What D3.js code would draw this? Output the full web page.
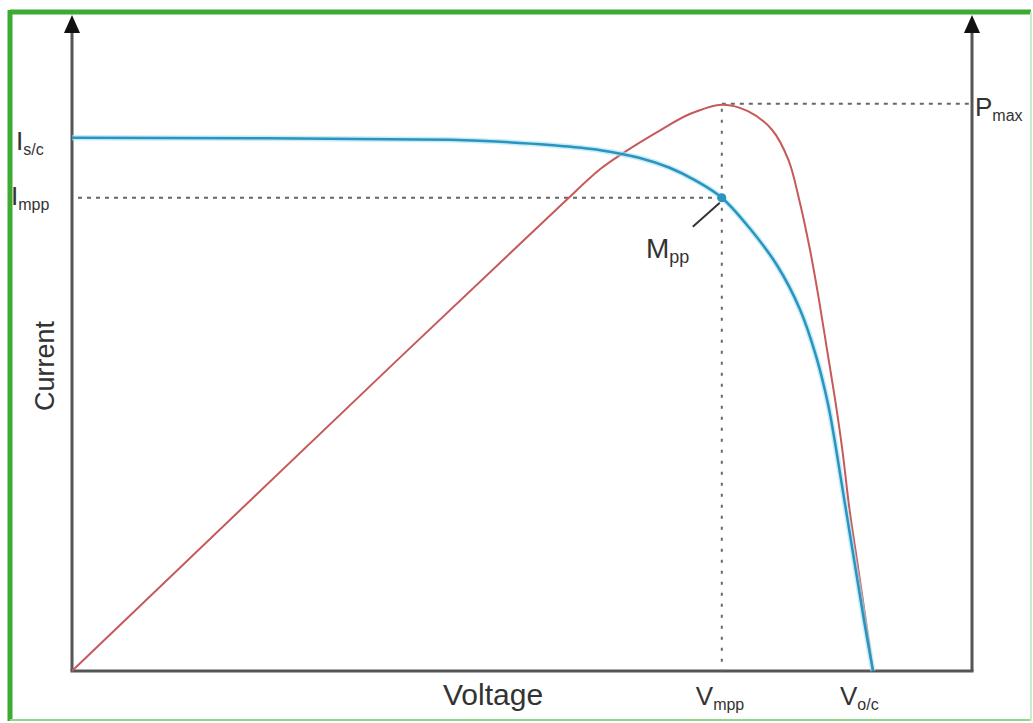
<!DOCTYPE html>
<html lang="en">
<head>
<meta charset="utf-8">
<title>Solar cell I-V and P-V curve</title>
<script src="https://cdn.jsdelivr.net/npm/d3@7"></script>
<style>
  body { margin: 0; background: #fff; }
  text { font-family: "Liberation Sans", Arial, sans-serif; fill: #333; }
</style>
</head>
<body>
<script>
// DATA (voltage / current / power in arbitrary units, 0..100)
var ivVoltage = [0, 42.0, 47.6, 53.1, 58.7, 63.1, 66.4, 69.2, 72.2, 75.3, 78.3, 80.9, 82.6, 84.0, 84.9, 85.8, 86.9, 88.0, 89.0];
var ivCurrent = [81.9, 81.6, 81.3, 80.8, 80.0, 78.8, 77.3, 75.4, 72.7, 68.0, 62.4, 55.5, 48.7, 41.0, 34.1, 26.4, 17.1, 7.8, 0];

var pvVoltage = [0, 36.4, 54.2, 58.7, 61.4, 65.3, 68.7, 72.3, 75.1, 77.8, 79.6, 80.8, 82.0, 83.0, 83.9, 84.8, 85.6, 86.4, 87.3, 88.2, 89.0];
var pvPower   = [0, 48.1, 71.4, 77.1, 79.7, 83.0, 85.6, 87.0, 86.0, 83.1, 78.5, 72.4, 64.7, 57.0, 49.3, 41.6, 33.9, 24.7, 16.3, 7.8, 0];

var Isc = 81.9, Impp = 72.7, Vmpp = 72.2, Voc = 89.0, Pmax = 87.0;

var w = 1033, h = 723;

var svg = d3.select("body").append("svg")
  .attr("width", w).attr("height", h);

// frame
svg.append("line").attr("x1", 10).attr("y1", 12).attr("x2", 1031).attr("y2", 12)
  .attr("stroke", "#3caa33").attr("stroke-width", 5);
svg.append("line").attr("x1", 10).attr("y1", 10).attr("x2", 10).attr("y2", 721)
  .attr("stroke", "#3caa33").attr("stroke-width", 5);
svg.append("line").attr("x1", 10).attr("y1", 720).attr("x2", 1031).attr("y2", 720)
  .attr("stroke", "#8fd68a").attr("stroke-width", 2);
svg.append("line").attr("x1", 1031).attr("y1", 12).attr("x2", 1031).attr("y2", 721)
  .attr("stroke", "#c8eec4").attr("stroke-width", 2);

var x = d3.scaleLinear().domain([0, 100]).range([72, 972]);
var y = d3.scaleLinear().domain([0, 100]).range([671, 20]);

// axes
var axisColor = "#555";
svg.append("line").attr("x1", x(0)).attr("y1", y(0)).attr("x2", x(0)).attr("y2", 28)
  .attr("stroke", axisColor).attr("stroke-width", 3);
svg.append("line").attr("x1", x(100)).attr("y1", y(0)).attr("x2", x(100)).attr("y2", 28)
  .attr("stroke", axisColor).attr("stroke-width", 3);
svg.append("line").attr("x1", x(0) - 1.5).attr("y1", y(0)).attr("x2", x(100) + 1.5).attr("y2", y(0))
  .attr("stroke", axisColor).attr("stroke-width", 3);

// arrow heads
[x(0), x(100)].forEach(function(ax) {
  svg.append("path")
    .attr("d", "M" + ax + ",15 L" + (ax - 8) + ",33 L" + (ax + 8) + ",33 Z")
    .attr("fill", "#111");
});

// dotted guides
var guide = svg.append("g").attr("stroke", "#666").attr("stroke-width", 2).attr("fill", "none");
guide.append("line").attr("x1", x(0) + 6).attr("y1", y(Impp)).attr("x2", x(Vmpp)).attr("y2", y(Impp))
  .attr("stroke-dasharray", "4,5");
guide.append("line").attr("x1", x(Vmpp)).attr("y1", y(Pmax) + 4).attr("x2", x(Vmpp)).attr("y2", y(0))
  .attr("stroke-dasharray", "3,8");
guide.append("line").attr("x1", x(Vmpp)).attr("y1", y(Pmax) - 1).attr("x2", x(100)).attr("y2", y(Pmax) - 1)
  .attr("stroke-dasharray", "4,5");

// curves
var ivData = ivVoltage.map(function(v, i) { return [v, ivCurrent[i]]; });
var pvData = pvVoltage.map(function(v, i) { return [v, pvPower[i]]; });

var line = d3.line()
  .x(function(d) { return x(d[0]); })
  .y(function(d) { return y(d[1]); })
  .curve(d3.curveCatmullRom.alpha(0.5));

svg.append("path").datum(pvData)
  .attr("d", line)
  .attr("fill", "none")
  .attr("stroke", "#c65a5a")
  .attr("stroke-width", 2);

svg.append("path").datum(ivData)
  .attr("d", line)
  .attr("fill", "none")
  .attr("stroke", "#9fe3f5")
  .attr("stroke-width", 5.5)
  .attr("opacity", 0.6);
svg.append("path").datum(ivData)
  .attr("d", line)
  .attr("fill", "none")
  .attr("stroke", "#2b93bd")
  .attr("stroke-width", 2.5);

// Mpp marker + pointer
svg.append("circle").attr("cx", x(Vmpp)).attr("cy", y(Impp)).attr("r", 4.5).attr("fill", "#2b93bd");
svg.append("line").attr("x1", x(Vmpp) - 29).attr("y1", y(Impp) + 29).attr("x2", x(Vmpp) - 2).attr("y2", y(Impp) + 5)
  .attr("stroke", "#333").attr("stroke-width", 2);

// labels with subscripts
function label(px, py, main, sub, size, subSize, anchor) {
  var t = svg.append("text").attr("x", px).attr("y", py)
    .attr("font-size", size + "px")
    .attr("text-anchor", anchor || "start");
  t.append("tspan").text(main);
  t.append("tspan").attr("font-size", subSize + "px").attr("dy", size * 0.2).text(sub);
  return t;
}

label(16, y(Isc) + 12, "I", "s/c", 26, 16);
label(11, y(Impp) + 7, "I", "mpp", 26, 16);
label(975, y(Pmax) + 11, "P", "max", 26, 16);
label(646, y(Impp) + 60, "M", "pp", 28, 18);
label(x(Vmpp) - 26, 705, "V", "mpp", 26, 16);
label(x(Voc) - 33, 705, "V", "o/c", 26, 16);

svg.append("text").attr("x", 443).attr("y", 705)
  .attr("font-size", "30px").text("Voltage");

svg.append("text")
  .attr("transform", "translate(54,366) rotate(-90)")
  .attr("text-anchor", "middle")
  .attr("font-size", "27px")
  .text("Current");
</script>
</body>
</html>
